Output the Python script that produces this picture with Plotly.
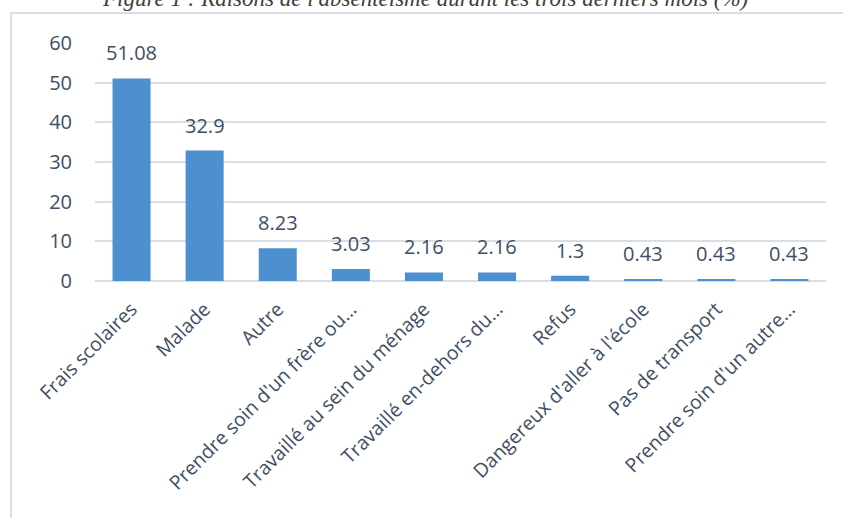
import plotly.graph_objects as go

# Raisons de l'absentéisme (%)
categories = [
    "Frais scolaires",
    "Malade",
    "Autre",
    "Prendre soin d'un frère ou…",
    "Travaillé au sein du ménage",
    "Travaillé en-dehors du…",
    "Refus",
    "Dangereux d'aller à l'école",
    "Pas de transport",
    "Prendre soin d'un autre…",
]
values = [51.08, 32.9, 8.23, 3.03, 2.16, 2.16, 1.3, 0.43, 0.43, 0.43]
value_labels = ["51.08", "32.9", "8.23", "3.03", "2.16", "2.16", "1.3", "0.43", "0.43", "0.43"]
y_ticks = [0, 10, 20, 30, 40, 50, 60]

title_text = "Figure 1 : Raisons de l'absentéisme durant les trois derniers mois (%)"

TEXT = "#3E4E66"
GRID = "#D9DEE6"
FONT = "Open Sans"

fig = go.Figure()
fig.add_trace(go.Bar(
    x=categories,
    y=values,
    width=0.52,
    marker=dict(color="#4C90CF", line=dict(width=0)),
    hoverinfo="skip",
))

# value labels above each bar
for c, v, t in zip(categories, values, value_labels):
    fig.add_annotation(
        x=c, y=v, text=t, showarrow=False,
        xref="x", yref="y", yanchor="bottom", yshift=10,
        font=dict(family=FONT, size=20, color=TEXT),
    )

# figure caption, partly above the page edge
fig.add_annotation(
    x=0.4514, xref="paper", y=1.124, yref="paper", text=f"<i>{title_text}</i>",
    showarrow=False, yanchor="bottom", xanchor="center",
    font=dict(family="Liberation Serif", size=23, color="#404040"),
)

# chart border
fig.add_shape(
    type="rect", xref="paper", yref="paper",
    x0=-0.1149, x1=1.05, y0=-1.1, y1=1.126,
    line=dict(color="#D9DEE6", width=2), fillcolor="rgba(0,0,0,0)", layer="below",
)

fig.update_layout(
    width=843, height=518,
    margin=dict(l=95, r=17, t=43, b=237),
    paper_bgcolor="white", plot_bgcolor="white",
    showlegend=False,
    font=dict(family=FONT, color=TEXT),
    xaxis=dict(
        tickangle=-45,
        tickfont=dict(family=FONT, size=19.5, color=TEXT),
        showgrid=False, showline=False, ticks="",
        ticklabelstandoff=12,
    ),
    yaxis=dict(
        range=[0, 60], tickvals=y_ticks,
        tickfont=dict(family=FONT, size=20, color=TEXT),
        showgrid=True, gridcolor=GRID, gridwidth=2,
        zeroline=True, zerolinecolor=GRID, zerolinewidth=2,
        showline=False, ticks="", ticklabelstandoff=22,
    ),
)

fig.write_html("out.html")
